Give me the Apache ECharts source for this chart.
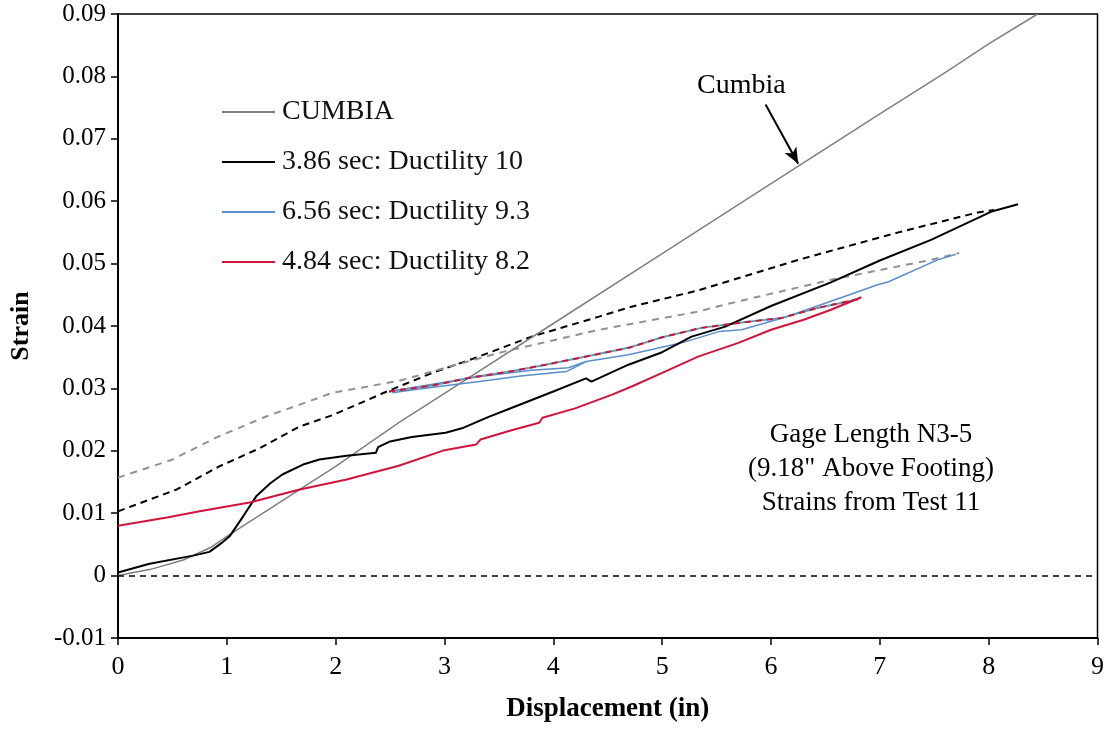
<!DOCTYPE html>
<html>
<head>
<meta charset="UTF-8">
<title>Strain vs Displacement</title>
<script src="https://cdn.jsdelivr.net/npm/echarts@6/dist/echarts.min.js"></script>
<style>
  body { margin: 0; background: #fff; }
  #chart { width: 1107px; height: 731px; }
</style>
</head>
<body>
<div id="chart"></div>
<script>
// axis ticks
var xTicks = { min: 0, max: 9, step: 1 };
var yTicks = { min: -0.01, max: 0.09, step: 0.01 };

// [displacement, strain]
var cumbia = [[0,0],[0.3,0.001],[0.6,0.0025],[0.85,0.0045],[1.0,0.0063],[1.5,0.0119],[2,0.0175],
  [2.58,0.0245],[3,0.0292],[4,0.0404],[5,0.0516],[6,0.0628],[7,0.074],[7.6,0.0806],[8,0.0852],[8.45,0.09]];

var duct10 = [[0,0.0005],[0.29,0.0019],[0.69,0.0032],[0.84,0.0038],[0.95,0.0052],[1.03,0.0064],[1.15,0.0095],
  [1.27,0.0127],[1.4,0.0148],[1.51,0.0162],[1.7,0.0178],[1.85,0.0186],[2.1,0.0192],[2.37,0.0197],[2.39,0.0206],
  [2.5,0.0215],[2.7,0.0222],[3.01,0.0229],[3.16,0.0236],[3.4,0.0254],[3.62,0.0269],[4.0,0.0295],[4.3,0.0316],
  [4.35,0.0311],[4.69,0.0338],[5.0,0.0358],[5.27,0.0383],[5.58,0.0399],[6.0,0.0432],[6.55,0.047],[7.0,0.0505],
  [7.47,0.0538],[8.02,0.0583],[8.27,0.0595]];

var duct10Dash = [[0,0.0103],[0.54,0.0138],[0.93,0.0175],[1.3,0.0204],[1.67,0.0239],[1.97,0.0257],[2.47,0.0295],
  [2.89,0.0325],[3.3,0.035],[3.8,0.0383],[4.42,0.0415],[4.72,0.0431],[5.33,0.0457],[6.25,0.0506],[7.17,0.055],
  [7.9,0.0582],[8.05,0.0586]];

var duct93Dash = [[0,0.0157],[0.5,0.0186],[0.9,0.0221],[1.36,0.0255],[1.67,0.0274],[1.97,0.0293],[2.58,0.0312],
  [3.5,0.0357],[4.42,0.0394],[5.33,0.0423],[5.64,0.0437],[6.55,0.0474],[7.47,0.0506],[7.73,0.0517]];

var duct93 = [[2.52,0.0293],[2.8,0.0300],[3.32,0.0311],[3.7,0.0320],[4.12,0.0327],[4.3,0.0343],[4.69,0.0354],
  [5.18,0.0373],[5.52,0.0391],[5.73,0.0394],[6.13,0.0414],[6.59,0.0442],[6.98,0.0466],[7.08,0.0471],
  [7.53,0.0506],[7.7,0.0515]];

var duct93b = [[2.52,0.0296],[3.0,0.0310],[3.32,0.0319],[3.8,0.0329],[4.14,0.0333],[4.3,0.0343]];

var duct82 = [[0,0.008],[0.45,0.0093],[0.75,0.0103],[1.21,0.0117],[1.67,0.0138],[2.1,0.0154],[2.58,0.0176],
  [3.0,0.0201],[3.29,0.021],[3.33,0.0218],[3.6,0.0232],[3.87,0.0245],[3.9,0.0253],[4.2,0.0268],[4.54,0.029],
  [4.72,0.0303],[5.0,0.0325],[5.33,0.0351],[5.7,0.0373],[6.0,0.0394],[6.3,0.041],[6.55,0.0426],[6.83,0.0446]];

var duct82Dash = [[2.49,0.0295],[2.9,0.0305],[3.23,0.0317],[3.6,0.0327],[3.93,0.0338],[4.3,0.0351],[4.69,0.0365],
  [5.0,0.0382],[5.36,0.0397],[5.75,0.0406],[6.1,0.0413],[6.43,0.0429],[6.8,0.0443]];

var names = ['CUMBIA', '3.86 sec: Ductility 10', '6.56 sec: Ductility 9.3', '4.84 sec: Ductility 8.2'];

var serif = 'Liberation Serif, Times New Roman, serif';

function line(name, data, color, width, type, z) {
  return {
    name: name, type: 'line', data: data, showSymbol: false, symbol: 'none',
    lineStyle: { color: color, width: width, type: type || 'solid' },
    itemStyle: { color: color }, z: z || 2, animation: false
  };
}

var chart = echarts.init(document.getElementById('chart'));

var series = [
  line('3.86 dashed', duct10Dash, '#000', 2, [7, 5]),
  line('6.56 dashed', duct93Dash, '#8e909e', 2, [7, 6]),
  line(names[0], cumbia, '#7f7f7f', 1.5),
  line(names[2], duct93, '#5b8dc8', 1.5),
  line('6.56 b', duct93b, '#5b8dc8', 1.5),
  line('4.84 under', duct82Dash, '#5aa0b8', 2),
  line('4.84 dashed', duct82Dash, '#d0143c', 2, [6, 5], 3),
  line(names[1], duct10, '#000', 2),
  line(names[3], duct82, '#d0143c', 2)
];

// dashed zero line
series[0].markLine = {
  silent: true, symbol: 'none', label: { show: false },
  lineStyle: { color: '#000', width: 1.5, type: [6, 5] },
  data: [{ yAxis: 0 }]
};
// arrow pointing at the Cumbia line
series[2].markLine = {
  silent: true, symbol: ['none', 'arrow'], symbolSize: [10, 16], label: { show: false },
  lineStyle: { color: '#000', width: 2, type: 'solid' },
  data: [[{ coord: [5.95, 0.0755] }, { coord: [6.25, 0.066] }]]
};

chart.setOption({
  backgroundColor: '#fff',
  animation: false,
  grid: { left: 118, right: 8, top: 14, bottom: 93, show: true, borderColor: '#000', borderWidth: 1.5 },
  legend: {
    data: names, orient: 'vertical', left: 217, top: 93, itemGap: 22,
    itemWidth: 53, itemHeight: 2, icon: 'rect',
    textStyle: { fontFamily: serif, fontSize: 28, lineHeight: 28, color: '#111', padding: [0, 0, 0, 2] }
  },
  xAxis: {
    type: 'value', min: xTicks.min, max: xTicks.max, interval: xTicks.step,
    name: 'Displacement (in)', nameLocation: 'middle', nameGap: 58,
    nameTextStyle: { fontFamily: serif, fontSize: 27, fontWeight: 'bold', color: '#000' },
    axisLine: { onZero: false, lineStyle: { color: '#000', width: 2 } },
    axisTick: { show: true, inside: false, length: 7, lineStyle: { color: '#000', width: 1.5 } },
    axisLabel: { fontFamily: serif, fontSize: 26, color: '#000', margin: 16 },
    splitLine: { show: false }
  },
  yAxis: {
    type: 'value', min: yTicks.min, max: yTicks.max, interval: yTicks.step,
    name: 'Strain', nameLocation: 'middle', nameGap: 84,
    nameTextStyle: { fontFamily: serif, fontSize: 26, fontWeight: 'bold', color: '#000' },
    axisLine: { show: true, onZero: false, lineStyle: { color: '#000', width: 2 } },
    axisTick: { show: true, inside: false, length: 7, lineStyle: { color: '#000', width: 1.5 } },
    axisLabel: { fontFamily: serif, fontSize: 25, color: '#000', margin: 12,
      formatter: function (v) { return +v.toFixed(2) + ''; } },
    splitLine: { show: false }
  },
  graphic: [
    { type: 'text', left: 697, top: 72,
      style: { text: 'Cumbia', font: '28px ' + serif, fill: '#000' } },
    { type: 'text', x: 871, y: 418,
      style: { text: 'Gage Length N3-5\n(9.18" Above Footing)\nStrains from Test 11',
        font: '27px ' + serif, fill: '#000', align: 'center', verticalAlign: 'top', lineHeight: 34 } }
  ],
  series: series
});
</script>
</body>
</html>
